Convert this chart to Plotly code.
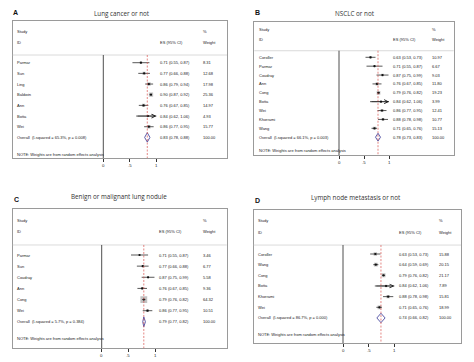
import plotly.graph_objects as go
import math

# page has an 8px body margin, so the figure is placed at (8, 8) inside the 474x362 window
OFF = 8
WF, HF = 474 - OFF, 362 - OFF

# ---------------- data ----------------
a_studies = ["Parmar", "Sun", "Ling", "Baldwin", "Ann", "Botta", "Wei"]
a_es = [0.71, 0.77, 0.86, 0.90, 0.76, 0.84, 0.86]
a_lo = [0.55, 0.66, 0.79, 0.87, 0.67, 0.62, 0.77]
a_hi = [0.87, 0.88, 0.94, 0.92, 0.85, 1.06, 0.95]
a_wt = [8.31, 12.68, 17.98, 25.36, 14.97, 4.93, 15.77]
a_overall = [0.83, 0.78, 0.88]
a_het = "Overall  (I-squared = 65.3%, p = 0.008)"

b_studies = ["Coroller", "Parmar", "Coudray", "Ann", "Cong", "Botta", "Wei", "Khorrami", "Wang"]
b_es = [0.63, 0.71, 0.87, 0.76, 0.79, 0.84, 0.86, 0.88, 0.71]
b_lo = [0.53, 0.55, 0.75, 0.67, 0.76, 0.62, 0.77, 0.78, 0.65]
b_hi = [0.73, 0.87, 0.99, 0.85, 0.82, 1.06, 0.95, 0.98, 0.76]
b_wt = [10.97, 6.67, 9.03, 11.80, 19.23, 3.99, 12.41, 10.77, 15.13]
b_overall = [0.78, 0.73, 0.83]
b_het = "Overall  (I-squared = 66.1%, p = 0.003)"

c_studies = ["Parmar", "Sun", "Coudray", "Ann", "Cong", "Wei"]
c_es = [0.71, 0.77, 0.87, 0.76, 0.79, 0.86]
c_lo = [0.55, 0.66, 0.75, 0.67, 0.76, 0.77]
c_hi = [0.87, 0.88, 0.99, 0.85, 0.82, 0.95]
c_wt = [3.46, 6.77, 5.58, 9.36, 64.32, 10.51]
c_overall = [0.79, 0.77, 0.82]
c_het = "Overall  (I-squared = 5.7%, p = 0.384)"

d_studies = ["Coroller", "Wang", "Cong", "Botta", "Khorrami", "Wei"]
d_es = [0.63, 0.64, 0.79, 0.84, 0.88, 0.71]
d_lo = [0.53, 0.59, 0.76, 0.62, 0.78, 0.65]
d_hi = [0.73, 0.69, 0.82, 1.06, 0.98, 0.76]
d_wt = [15.88, 20.15, 21.17, 7.89, 15.81, 18.99]
d_overall = [0.74, 0.66, 0.82]
d_het = "Overall  (I-squared = 86.7%, p = 0.000)"

tick_vals = [0, 0.5, 1]
tick_text = ["0", ".5", "1"]
note_text = "NOTE: Weights are from random effects analysis"

panels = [
    dict(key="A", title="Lung cancer or not", studies=a_studies, es=a_es, lo=a_lo, hi=a_hi,
         wt=a_wt, ov=a_overall, het=a_het,
         box=(12.7, 227, 20.7, 158), zero=103.3, unit=53.0, first=62.7, pitch=10.67,
         sep=-0.72, hdr=(-2.9, -1.9), note_gap=1.56, es_x=157.7, wt_x=201,
         title_xy=(122, 8.2), label_xy=(12, 8.2)),
    dict(key="B", title="NSCLC or not", studies=b_studies, es=b_es, lo=b_lo, hi=b_hi,
         wt=b_wt, ov=b_overall, het=b_het,
         box=(254.3, 453.7, 21.7, 155), zero=339, unit=50.0, first=57.3, pitch=8.875,
         sep=-0.74, hdr=(-3.08, -2.06), note_gap=1.54, es_x=391.3, wt_x=430.3,
         title_xy=(355, 8.2), label_xy=(253.7, 8.2)),
    dict(key="C", title="Benign or malignant lung nodule", studies=c_studies, es=c_es, lo=c_lo,
         hi=c_hi, wt=c_wt, ov=c_overall, het=c_het,
         box=(12.7, 226.7, 209.3, 348.3), zero=101.7, unit=53.3, first=255, pitch=11.14,
         sep=-0.9, hdr=(-3.14, -2.09), note_gap=1.53, es_x=156.7, wt_x=201,
         title_xy=(119, 196), label_xy=(13.3, 199)),
    dict(key="D", title="Lymph node metastasis or not", studies=d_studies, es=d_es, lo=d_lo,
         hi=d_hi, wt=d_wt, ov=d_overall, het=d_het,
         box=(253.7, 461, 210, 343.3), zero=343, unit=51.3, first=254, pitch=10.66,
         sep=-0.84, hdr=(-3.12, -2.04), note_gap=1.57, es_x=397, wt_x=437,
         title_xy=(356, 197), label_xy=(254.3, 200)),
]


def fx(v):
    return (v - OFF) / WF


def fy(v):
    return 1 - (v - OFF) / HF


FAM = "Liberation Sans, Arial, sans-serif"
SMALL = dict(family=FAM, size=4, color="#222")
fig = go.Figure()
annotations = []
shapes = []
axis_max = 1.0

for k, p in enumerate(panels):
    n = len(p["studies"])
    sfx = "" if k == 0 else str(k + 1)
    xa, ya = "x" + sfx, "y" + sfx
    L, R, T, B = p["box"]
    px2x = lambda v, p=p: (v - p["zero"]) / p["unit"]
    x0, x1 = px2x(L), px2x(R)
    ytop = (T - p["first"]) / p["pitch"]
    ybot = (B - p["first"]) / p["pitch"]
    rows = list(range(n))
    ov_row = n
    note_row = n + p["note_gap"]

    fig.update_layout(**{
        "xaxis" + sfx: dict(domain=[fx(L), fx(R)], range=[x0, x1], anchor=ya,
                            tickvals=tick_vals, showticklabels=False, ticks="outside",
                            ticklen=2.5, tickwidth=0.6, tickcolor="#333",
                            showline=True, mirror=True, linecolor="#9a9a9a", linewidth=1,
                            showgrid=False, zeroline=False, fixedrange=True),
        "yaxis" + sfx: dict(domain=[fy(B), fy(T)], range=[ybot, ytop], anchor=xa,
                            showticklabels=False, ticks="", showline=True, mirror=True,
                            linecolor="#9a9a9a", linewidth=1, showgrid=False,
                            zeroline=False, fixedrange=True),
    })

    # tick labels just below the frame
    for tv, tt in zip(tick_vals, tick_text):
        annotations.append(dict(x=tv, y=0, xref=xa, yref=ya + " domain", text=tt,
                                showarrow=False, xanchor="center", yanchor="top", yshift=-2.5,
                                font=dict(family=FAM, size=4.3, color="#222")))

    # separator line under header
    shapes.append(dict(type="line", xref=xa + " domain", yref=ya, x0=0, x1=1,
                       y0=p["sep"], y1=p["sep"], line=dict(color="#d0d0d0", width=0.8)))
    # null line at 0
    shapes.append(dict(type="line", xref=xa, yref=ya, x0=0, x1=0, y0=p["sep"], y1=ybot,
                       line=dict(color="#222", width=0.8)))
    # overall effect dashed line
    shapes.append(dict(type="line", xref=xa, yref=ya, x0=p["ov"][0], x1=p["ov"][0],
                       y0=p["sep"], y1=ybot,
                       line=dict(color="#d9534f", width=0.7, dash="2px,1.5px")))

    # weight squares
    fig.add_trace(go.Scatter(x=p["es"], y=rows, xaxis=xa, yaxis=ya, mode="markers",
                             marker=dict(symbol="square", size=[0.85 * math.sqrt(w) for w in p["wt"]],
                                         color="#a8a8a8", line=dict(width=0)),
                             hoverinfo="skip", showlegend=False))
    # CI lines
    cx, cy = [], []
    for i in rows:
        cx += [p["lo"][i], min(p["hi"][i], axis_max), None]
        cy += [i, i, None]
    fig.add_trace(go.Scatter(x=cx, y=cy, xaxis=xa, yaxis=ya, mode="lines",
                             line=dict(color="#111", width=0.7), hoverinfo="skip",
                             showlegend=False))
    # point estimates
    fig.add_trace(go.Scatter(x=p["es"], y=rows, xaxis=xa, yaxis=ya, mode="markers",
                             marker=dict(symbol="circle", size=2.2, color="#111"),
                             hoverinfo="skip", showlegend=False))
    # clipped CI arrows
    for i in rows:
        if p["hi"][i] > axis_max:
            annotations.append(dict(x=axis_max, y=i, xref=xa, yref=ya, ax=p["lo"][i], ay=i,
                                    axref=xa, ayref=ya, text="", showarrow=True,
                                    arrowhead=5, arrowsize=1.3, arrowwidth=0.6,
                                    arrowcolor="#111", standoff=0))
    # overall diamond
    es, lo, hi = p["ov"]
    h = 0.44
    fig.add_trace(go.Scatter(x=[lo, es, hi, es, lo], y=[ov_row, ov_row - h, ov_row, ov_row + h, ov_row],
                             xaxis=xa, yaxis=ya, mode="lines",
                             line=dict(color="#4b4ba0", width=0.9), hoverinfo="skip",
                             showlegend=False))

    # text columns
    sx = px2x(L + 2.4)
    ex = px2x(p["es_x"])
    wx = px2x(p["wt_x"])

    def txt(x, y, s):
        annotations.append(dict(x=x, y=y, xref=xa, yref=ya, text=s, showarrow=False,
                                xanchor="left", yanchor="middle", font=SMALL))

    txt(sx, p["hdr"][0], "Study")
    txt(sx, p["hdr"][1], "ID")
    txt(ex, p["hdr"][1], "ES (95% CI)")
    txt(wx, p["hdr"][0], "%")
    txt(wx, p["hdr"][1], "Weight")
    for i in rows:
        txt(sx, i, p["studies"][i])
        txt(ex, i, f"{p['es'][i]:.2f} ({p['lo'][i]:.2f}, {p['hi'][i]:.2f})")
        txt(wx, i, f"{p['wt'][i]:.2f}")
    txt(sx, ov_row, p["het"])
    txt(ex, ov_row, f"{es:.2f} ({lo:.2f}, {hi:.2f})")
    txt(wx, ov_row, "100.00")
    txt(sx, note_row, note_text)

    # titles and panel labels (top-anchored so they stay inside the figure)
    annotations.append(dict(x=fx(p["title_xy"][0]), y=fy(p["title_xy"][1]), xref="paper",
                            yref="paper", text=p["title"], showarrow=False, xanchor="center",
                            yanchor="top" if p["title_xy"][1] < 20 else "middle",
                            borderpad=0,
                            font=dict(family="Open Sans, sans-serif", size=6.3, color="#333")))
    annotations.append(dict(x=fx(p["label_xy"][0]), y=fy(p["label_xy"][1]), xref="paper",
                            yref="paper", text="<b>" + p["key"] + "</b>", showarrow=False,
                            xanchor="left",
                            yanchor="top" if p["label_xy"][1] < 20 else "middle",
                            borderpad=0,
                            font=dict(family=FAM, size=7, color="#111")))

fig.update_layout(width=WF, height=HF, margin=dict(l=0, r=0, t=0, b=0),
                  paper_bgcolor="white", plot_bgcolor="white",
                  annotations=annotations, shapes=shapes, showlegend=False)

fig.write_html("out.html", config={"displayModeBar": False})
